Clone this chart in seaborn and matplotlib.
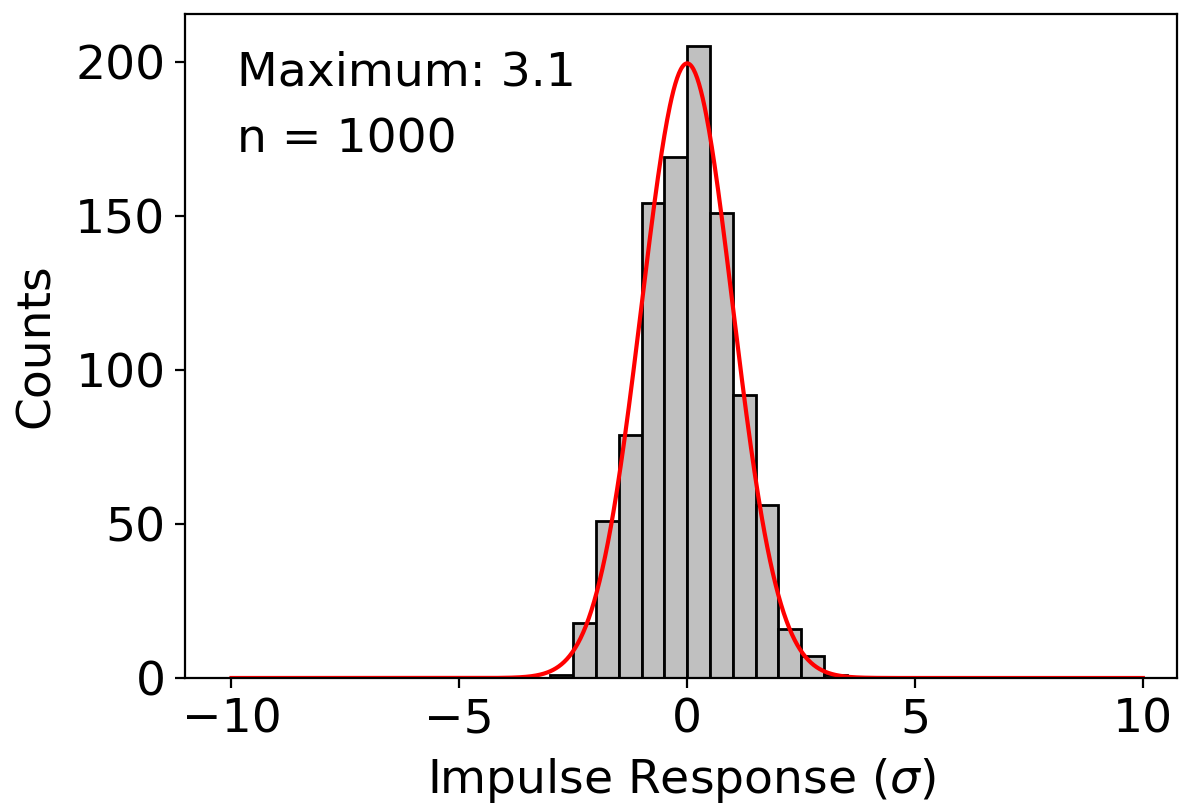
import numpy as np
import pandas as pd
import matplotlib
matplotlib.use("Agg")
import matplotlib.pyplot as plt
import seaborn as sns

# Histogram data (bin edges of width 0.5 and counts)
bin_edges = [-3.0, -2.5, -2.0, -1.5, -1.0, -0.5, 0.0, 0.5, 1.0, 1.5, 2.0, 2.5, 3.0, 3.5]
counts = [1, 18, 51, 79, 154, 169, 205, 151, 92, 56, 16, 7, 1]

# Gaussian overlay parameters
mu = 0.0
sigma = 1.0
n_total = 1000
bin_width = 0.5
curve_range = (-10, 10)

annot_lines = ["Maximum: 3.1", "n = 1000"]
x_label = r"Impulse Response ($\sigma$)"
y_label = "Counts"

FS = 17
plt.rcParams['font.family'] = ['DejaVu Sans']
plt.rcParams['font.size'] = FS

fig = plt.figure(figsize=(5.9, 4.025), dpi=200)
ax = fig.add_axes([185 / 1180, 127 / 805, (1177 - 185) / 1180, (678 - 14) / 805])

centers = [(bin_edges[i] + bin_edges[i + 1]) / 2 for i in range(len(counts))]
df = pd.DataFrame({"x": centers, "w": counts})
sns.histplot(data=df, x="x", weights="w", bins=bin_edges, color="silver",
             edgecolor="black", linewidth=1.0, alpha=1.0, ax=ax)

xs = np.linspace(curve_range[0], curve_range[1], 1001)
ys = n_total * bin_width * np.exp(-0.5 * ((xs - mu) / sigma) ** 2) / (sigma * np.sqrt(2 * np.pi))
sns.lineplot(x=xs, y=ys, color="red", linewidth=1.5, ax=ax)

ax.set_xlim(-11.02, 10.75)
ax.set_ylim(0, 215.5)
ax.set_xticks([-10, -5, 0, 5, 10])
ax.set_yticks([0, 50, 100, 150, 200])
ax.set_xlabel(x_label, fontsize=FS, labelpad=5)
ax.set_ylabel(y_label, fontsize=FS, labelpad=6)
ax.tick_params(labelsize=FS)

ax.text(0.052, 0.893, annot_lines[0], transform=ax.transAxes, fontsize=FS, va="baseline", ha="left")
ax.text(0.052, 0.792, annot_lines[1], transform=ax.transAxes, fontsize=FS, va="baseline", ha="left")

fig.savefig("out.png", dpi=200)
